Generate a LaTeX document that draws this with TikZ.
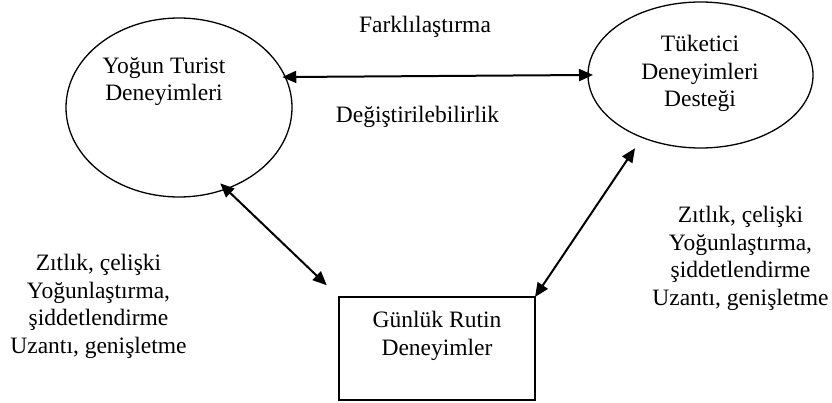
\documentclass[tikz,border=0pt]{standalone}
\usepackage{fontspec}
\setmainfont{Liberation Serif}
\usetikzlibrary{shapes.geometric,arrows.meta}
\begin{document}
\begin{tikzpicture}[x=1pt,y=-1pt,
  shapeline/.style={draw=black,line width=1.3pt,inner sep=0pt,outer sep=0pt},
  oval/.style={shapeline,ellipse},
  boxnode/.style={shapeline,rectangle},
  lbl/.style={inner sep=0pt,align=center,font=\fontsize{23.5}{27.5}\selectfont},
  link/.style={line width=2pt,{Triangle[length=14pt,width=12pt]}-{Triangle[length=14pt,width=12pt]}}]
\useasboundingbox (0,0) rectangle (832,403);
\node[oval,minimum width=226pt,minimum height=179pt] (L) at (179,107.5) {};
\node[oval,minimum width=225pt,minimum height=146pt] (R) at (700.5,75) {};
\node[boxnode,minimum width=196pt,minimum height=103pt] (B) at (437,348.5) {};
\node[lbl] (Lt) at (164,81.5) {Yoğun Turist\\Deneyimleri};
\node[lbl] (Rt) at (700,73.5) {Tüketici\\Deneyimleri\\Desteği};
\node[lbl] (Bt) at (437,336) {Günlük Rutin\\Deneyimler};
\node[lbl] (f1) at (425,27) {Farklılaştırma};
\node[lbl] (f2) at (417.5,117) {Değiştirilebilirlik};
\node[lbl] (s1) at (98.5,306.5) {Zıtlık, çelişki\\Yoğunlaştırma,\\şiddetlendirme\\Uzantı, genişletme};
\node[lbl] (s2) at (740.5,258.5) {Zıtlık, çelişki\\Yoğunlaştırma,\\şiddetlendirme\\Uzantı, genişletme};
\draw[link,shorten <=-3pt,shorten >=-5pt] (L.16.6) -- (R.180.5);
\draw[link,shorten <=-8pt,shorten >=17pt] (L.-60) -- (B.north west);
\draw[link,shorten >=13pt] (B.north east) -- (R.227.5);
\end{tikzpicture}
\end{document}
